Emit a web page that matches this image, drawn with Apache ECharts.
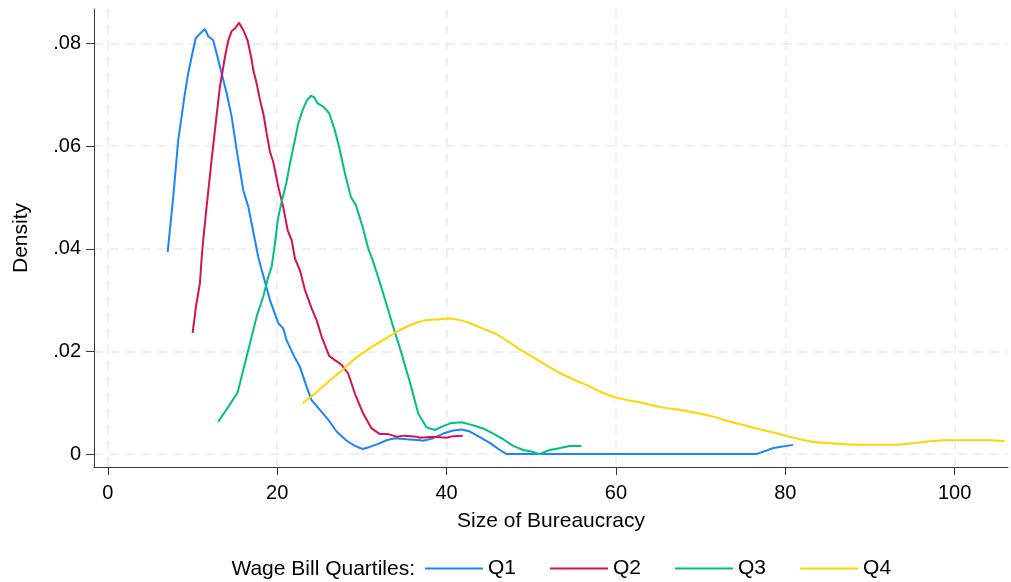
<!DOCTYPE html>
<html>
<head>
<meta charset="utf-8">
<script src="https://cdn.jsdelivr.net/npm/echarts@6/dist/echarts.min.js"></script>
<style>
  html, body { margin: 0; padding: 0; background: #ffffff; }
  #chart { width: 1011px; height: 582px; }
</style>
</head>
<body>
<div id="chart"></div>
<script>
// Kernel density estimates of bureaucracy size, by wage bill quartile
const seriesNames = ['Q1', 'Q2', 'Q3', 'Q4'];
const seriesColors = ['#1a85ff', '#d41159', '#00bf7f', '#ffd400'];

const xTicks = [0, 20, 40, 60, 80, 100];
const yTicks = [0, 0.02, 0.04, 0.06, 0.08];

const q1 = [[7.06,.0394],[7.72,.0501],[8.31,.0612],[9.10,.0703],[9.49,.0742],[9.89,.0774],[10.37,.0810],[10.87,.0819],[11.46,.0828],[11.85,.0814],[12.44,.0806],[13.03,.0768],[13.43,.0742],[14.03,.0703],[14.62,.0657],[15.21,.0592],[15.99,.0514],[16.58,.0482],[17.17,.0433],[17.76,.0384],[18.16,.0359],[19.14,.0300],[20.12,.0255],[20.7,.0245],[21.1,.0222],[22.1,.0187],[22.68,.0170],[23.47,.0131],[24.06,.0105],[25.04,.0086],[26.02,.0067],[27.01,.0044],[28.2,.0026],[29.17,.0016],[30.08,.0010],[30.94,.0014],[31.92,.0020],[32.9,.0027],[33.9,.0031],[35.3,.0029],[36.85,.0027],[37.24,.0026],[38.4,.0031],[39.6,.0040],[40.78,.0046],[41.77,.0048],[42.75,.0044],[43.93,.0033],[45.1,.0022],[46.3,.0008],[47.08,0],[76.6,0],[78.6,.0012],[80.9,.0018]];

const q2 = [[10.01,.0236],[10.4,.0287],[10.87,.0333],[11.07,.0381],[11.26,.0417],[11.66,.0482],[12.25,.0573],[12.64,.0631],[13.23,.0716],[13.83,.0774],[14.22,.0806],[14.62,.0824],[15.0,.0829],[15.48,.0840],[15.99,.0826],[16.5,.0806],[16.98,.0768],[17.17,.0748],[17.57,.0722],[17.96,.0690],[18.35,.0664],[18.75,.0625],[19.14,.0589],[19.53,.0569],[20.12,.0521],[20.7,.0482],[21.23,.0436],[21.7,.0417],[22.09,.0381],[22.68,.0358],[23.27,.0320],[24.06,.0284],[24.65,.0261],[25.24,.0229],[26.14,.0191],[26.81,.0183],[27.6,.0174],[28.38,.0157],[29.17,.0118],[30.15,.0079],[31.14,.0050],[32.12,.0039],[33.1,.0039],[34.1,.0034],[35.07,.0036],[36.46,.0034],[36.85,.0032],[38.42,.0034],[40.0,.0032],[40.78,.0035],[41.9,.0036]];

const q3 = [[13.03,.0063],[14.22,.0092],[15.32,.0120],[15.99,.0164],[16.78,.0216],[17.57,.0268],[18.35,.0307],[18.94,.0345],[19.34,.0365],[19.73,.0410],[20.1,.0460],[20.5,.0490],[21.1,.0530],[21.5,.0566],[22.09,.0612],[22.48,.0644],[23.0,.0670],[23.47,.0688],[23.98,.0698],[24.37,.0695],[24.77,.0683],[25.43,.0677],[26.14,.0664],[26.8,.0631],[27.4,.0592],[27.99,.0547],[28.7,.0501],[29.29,.0485],[30.08,.0443],[30.74,.0401],[31.33,.0375],[32.0,.0340],[32.7,.0303],[33.69,.0248],[34.5,.0206],[35.67,.0140],[36.65,.0079],[37.64,.0052],[38.6,.0047],[39.4,.0053],[40.4,.0060],[41.77,.0062],[42.95,.0057],[44.32,.0050],[45.5,.0040],[46.68,.0029],[47.86,.0016],[49.04,.0008],[50.03,.0005],[50.93,0],[52.2,.0008],[53.4,.0012],[54.56,.0016],[55.94,.0016]];

const q4 = [[23.0,.0099],[24.25,.0115],[25.83,.0138],[27.4,.0160],[28.97,.0183],[30.74,.0204],[32.5,.0222],[34.1,.0238],[35.67,.0251],[37.24,.0260],[38.8,.0262],[40.2,.0264],[41.57,.0261],[42.95,.0254],[44.32,.0244],[45.7,.0235],[47.08,.0221],[48.65,.0204],[50.22,.0189],[51.8,.0173],[53.37,.0158],[55.14,.0144],[56.5,.0135],[58.1,.0122],[60.07,.0110],[62.43,.0102],[65.2,.0092],[68.3,.0084],[71.5,.0073],[73.8,.0062],[76.6,.0050],[79.3,.0039],[81.7,.0029],[83.7,.0023],[86.4,.0020],[89.6,.0018],[92.7,.0018],[95.5,.0022],[98.6,.0027],[101.8,.0027],[104.1,.0027],[105.9,.0025]];

const seriesData = [q1, q2, q3, q4];

const FONT = 'Liberation Sans, Arial, sans-serif';
const gridLine = { show: true, lineStyle: { color: '#ebebeb', width: 1.5, type: [9, 7] } };
const axisLineStyle = { show: true, onZero: false, lineStyle: { color: '#3a3a3a', width: 1 } };

const chart = echarts.init(document.getElementById('chart'), null, { renderer: 'canvas' });

chart.setOption({
  animation: false,
  backgroundColor: '#ffffff',
  grid: { left: 94, top: 9, right: 3, bottom: 115, containLabel: false },
  xAxis: {
    type: 'value',
    min: -1.64,
    max: 106.3,
    name: 'Size of Bureaucracy',
    nameLocation: 'middle',
    nameGap: 44,
    nameTextStyle: { fontFamily: FONT, fontSize: 21, color: '#000' },
    axisLine: axisLineStyle,
    axisTick: { show: true, length: 8, lineStyle: { color: '#3a3a3a' }, customValues: xTicks },
    axisLabel: { customValues: xTicks, fontFamily: FONT, fontSize: 20, color: '#000', margin: 16 },
    splitLine: gridLine
  },
  yAxis: {
    type: 'value',
    min: -0.00251,
    max: 0.0867,
    name: 'Density',
    nameLocation: 'middle',
    nameGap: 62,
    nameRotate: 90,
    nameTextStyle: { fontFamily: FONT, fontSize: 21, color: '#000' },
    axisLine: axisLineStyle,
    axisTick: { show: true, length: 8, lineStyle: { color: '#3a3a3a' }, customValues: yTicks },
    axisLabel: {
      customValues: yTicks,
      fontFamily: FONT, fontSize: 20, color: '#000', margin: 13,
      formatter: v => (v === 0 ? '0' : v.toFixed(2).replace(/^0/, ''))
    },
    splitLine: gridLine
  },
  legend: {
    data: seriesNames,
    left: 420,
    top: 553,
    icon: 'rect',
    itemWidth: 58,
    itemHeight: 2,
    itemGap: 34,
    textStyle: { fontFamily: FONT, fontSize: 21, color: '#000' }
  },
  graphic: [{
    type: 'text',
    right: 1011 - 415,
    top: 559,
    style: { text: 'Wage Bill Quartiles:', fontFamily: FONT, fontSize: 21, fill: '#000' }
  }],
  series: seriesNames.map((name, i) => ({
    name,
    type: 'line',
    data: seriesData[i],
    showSymbol: false,
    symbol: 'none',
    smooth: i === 3 ? 0.3 : false,
    color: seriesColors[i],
    lineStyle: { color: seriesColors[i], width: 2 },
    z: 2 + i
  }))
});
</script>
</body>
</html>
